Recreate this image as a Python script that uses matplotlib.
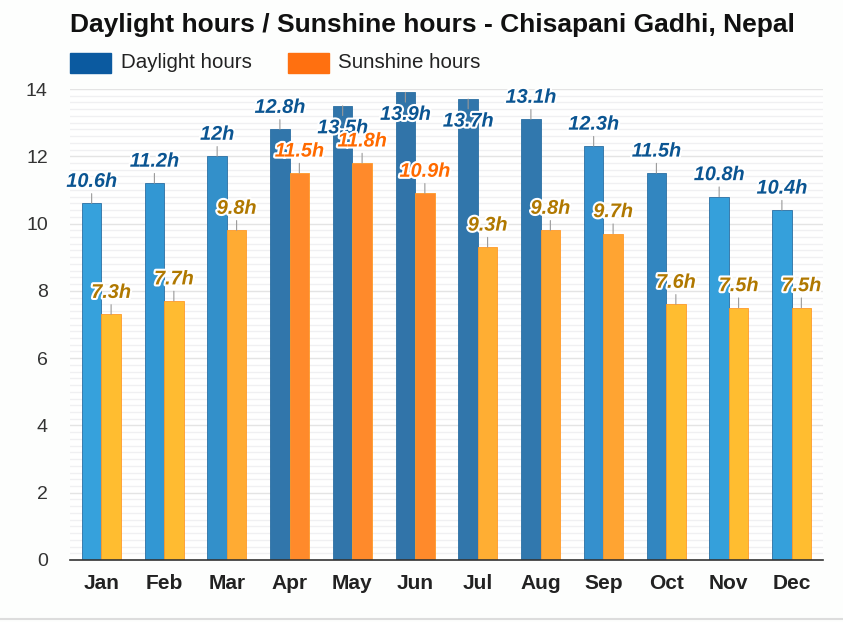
import numpy as np
import matplotlib.pyplot as plt
import matplotlib.patheffects as pe
from matplotlib.lines import Line2D

plt.rcParams['font.family'] = ['Liberation Sans', 'DejaVu Sans']

# 数据
months = ['Jan', 'Feb', 'Mar', 'Apr', 'May', 'Jun',
          'Jul', 'Aug', 'Sep', 'Oct', 'Nov', 'Dec']
daylight = [10.6, 11.2, 12.0, 12.8, 13.5, 13.9, 13.7, 13.1, 12.3, 11.5, 10.8, 10.4]
sunshine = [7.3, 7.7, 9.8, 11.5, 11.8, 10.9, 9.3, 9.8, 9.7, 7.6, 7.5, 7.5]
daylight_labels = ['10.6h', '11.2h', '12h', '12.8h', '13.5h', '13.9h',
                   '13.7h', '13.1h', '12.3h', '11.5h', '10.8h', '10.4h']
sunshine_labels = ['7.3h', '7.7h', '9.8h', '11.5h', '11.8h', '10.9h',
                   '9.3h', '9.8h', '9.7h', '7.6h', '7.5h', '7.5h']

# 颜色
day_colors = ['#36a1dc', '#3297d3', '#3390ca', '#3176ab', '#3175aa', '#3174a9',
              '#3176ab', '#3178ae', '#3590cd', '#3286c0', '#35a0db', '#35a0db']
sun_colors = ['#ffbd30', '#ffbb31', '#ffab33', '#ff8a2b', '#ff8a2b', '#ff8a2b',
              '#ffae33', '#ffa833', '#ffa432', '#ffbd30', '#ffbd30', '#ffbd30']
sun_text = ['#b07800', '#b07800', '#b07800', '#ff6a00', '#ff6a00', '#ff6a00',
            '#b07800', '#b07800', '#b07800', '#b07800', '#b07800', '#b07800']
day_text = '#0b5592'

fig = plt.figure(figsize=(8.43, 6.22), dpi=100)
ax = fig.add_axes([70 / 843, 1 - 560 / 622, 753 / 843, 471 / 622])

x = np.arange(len(months))
w = 0.31
ymax = 14
px_per_unit = 471 / ymax

# 网格
for v in np.arange(0.2, 14.01, 0.2):
    major = abs(v / 2 - round(v / 2)) < 1e-6
    ax.axhline(v, color='#e4e4e4' if major else '#f0f0f2', lw=1.0, zorder=0)

ax.bar(x - w / 2, daylight, w, color=day_colors, edgecolor='#2b6fa3',
       linewidth=0.6, zorder=2)
ax.bar(x + w / 2, sunshine, w, color=sun_colors, edgecolor='#ff9a2a',
       linewidth=0.6, zorder=2)

stroke = [pe.withStroke(linewidth=3, foreground='white')]

def label(xx, yy, txt, col):
    # 标签超出绘图区时翻到柱内
    flip = yy + 30 / px_per_unit > ymax
    d = -1 if flip else 1
    ax.annotate('', xy=(xx, yy), xytext=(0, 7 * d), textcoords='offset points',
                arrowprops=dict(arrowstyle='-', color='#999999', lw=0.8,
                                shrinkA=0, shrinkB=0), zorder=3)
    ax.annotate(txt, xy=(xx, yy), xytext=(0, 9 * d), textcoords='offset points',
                ha='center', va='top' if flip else 'bottom', fontsize=14.3,
                fontweight='bold', fontstyle='italic', color=col,
                path_effects=stroke, zorder=5)

for i in range(len(months)):
    label(x[i] - w / 2, daylight[i], daylight_labels[i], day_text)
    label(x[i] + w / 2, sunshine[i], sunshine_labels[i], sun_text[i])

ax.set_xlim(-0.5, 11.5)
ax.set_ylim(0, ymax)
ax.set_yticks(range(0, 15, 2))
ax.set_xticks(x)
ax.set_xticklabels(months, fontsize=15, fontweight='bold', color='#222222')
ax.tick_params(axis='y', labelsize=14, labelcolor='#333333', length=0, pad=16)
ax.tick_params(axis='x', length=0, pad=10)
for s in ['top', 'right', 'left']:
    ax.spines[s].set_visible(False)
ax.spines['bottom'].set_color('#333333')
ax.spines['bottom'].set_linewidth(1.2)

fig.text(70 / 843, 1 - 25 / 622, 'Daylight hours / Sunshine hours - Chisapani Gadhi, Nepal',
         fontsize=19, fontweight='bold', va='center', ha='left', color='#111111')

# 图例
fig.patches.append(plt.Rectangle((70 / 843, 1 - 73 / 622), 41 / 843, 20 / 622,
                                 color='#0b5aa0', transform=fig.transFigure))
fig.text(121 / 843, 1 - 62 / 622, 'Daylight hours', fontsize=14.8, va='center',
         color='#222222')
fig.patches.append(plt.Rectangle((288 / 843, 1 - 73 / 622), 41 / 843, 20 / 622,
                                 color='#ff7010', transform=fig.transFigure))
fig.text(338 / 843, 1 - 62 / 622, 'Sunshine hours', fontsize=14.8, va='center',
         color='#222222')

fig.add_artist(Line2D([0, 1], [1 - 619 / 622] * 2, color='#dddddd', lw=1.5,
                      transform=fig.transFigure))

fig.savefig('out.png', dpi=100, facecolor='#fdfefd')
